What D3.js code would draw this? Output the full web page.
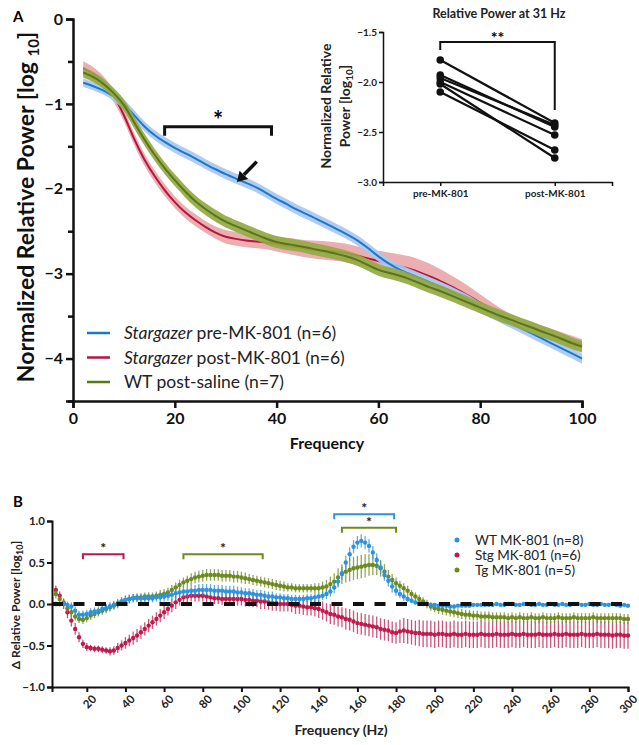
<!DOCTYPE html>
<html><head><meta charset="utf-8">
<script src="https://cdn.jsdelivr.net/npm/d3@7"></script>
<style>
body{margin:0;background:#fff}
svg{display:block}
text{font-family:Lato,"Open Sans",sans-serif}
</style>
</head><body><svg id="c" width="639" height="745"></svg>
<script>
// ---------- Panel A data ----------
const freqA = [2,4,6,8,10,12,14,16,18,20,22,24,26,28,30,32,34,36,38,40,42,44,46,48,50,
  52,54,56,58,60,62,64,66,68,70,72,74,76,78,80,82,84,86,88,90,92,94,96,98,100];
const preMean = [-0.75,-0.79,-0.84,-0.91,-1.0,-1.13,-1.27,-1.37,-1.45,-1.52,
  -1.58,-1.64,-1.71,-1.77,-1.83,-1.88,-1.93,-1.98,-2.05,-2.12,
  -2.18,-2.25,-2.3,-2.36,-2.42,-2.48,-2.54,-2.61,-2.7,-2.8,
  -2.88,-2.95,-3.0,-3.05,-3.1,-3.15,-3.2,-3.26,-3.32,-3.4,
  -3.46,-3.52,-3.58,-3.64,-3.7,-3.76,-3.82,-3.88,-3.94,-4.0];
const preSem = [0.05,0.05,0.05,0.05,0.06,0.06,0.06,0.06,0.06,0.06,
  0.06,0.06,0.06,0.06,0.06,0.06,0.06,0.06,0.06,0.06,
  0.06,0.06,0.06,0.06,0.06,0.06,0.06,0.06,0.06,0.06,
  0.06,0.06,0.06,0.06,0.06,0.06,0.06,0.06,0.06,0.06,
  0.06,0.06,0.06,0.06,0.06,0.06,0.06,0.06,0.06,0.06];
const postMean = [-0.58,-0.64,-0.74,-0.9,-1.12,-1.42,-1.66,-1.85,-2.02,-2.16,
  -2.28,-2.37,-2.45,-2.52,-2.57,-2.59,-2.61,-2.62,-2.63,-2.65,
  -2.67,-2.69,-2.71,-2.72,-2.73,-2.74,-2.76,-2.79,-2.82,-2.85,
  -2.88,-2.91,-2.94,-2.98,-3.03,-3.08,-3.14,-3.2,-3.27,-3.34,
  -3.42,-3.49,-3.55,-3.6,-3.64,-3.68,-3.72,-3.76,-3.8,-3.84];
const postSem = [0.08,0.08,0.07,0.07,0.07,0.07,0.07,0.07,0.07,0.07,
  0.07,0.07,0.07,0.07,0.08,0.08,0.08,0.08,0.08,0.09,
  0.09,0.1,0.1,0.11,0.11,0.11,0.11,0.11,0.11,0.12,
  0.13,0.14,0.15,0.15,0.15,0.14,0.13,0.12,0.11,0.1,
  0.09,0.08,0.07,0.07,0.07,0.07,0.07,0.07,0.07,0.07];
const salineMean = [-0.63,-0.68,-0.76,-0.87,-1.0,-1.22,-1.42,-1.6,-1.76,-1.9,
  -2.03,-2.15,-2.24,-2.32,-2.39,-2.44,-2.49,-2.54,-2.59,-2.63,
  -2.65,-2.67,-2.69,-2.72,-2.74,-2.77,-2.8,-2.84,-2.9,-2.96,
  -2.99,-3.02,-3.06,-3.11,-3.16,-3.2,-3.25,-3.3,-3.35,-3.4,
  -3.45,-3.5,-3.54,-3.59,-3.63,-3.68,-3.72,-3.77,-3.82,-3.86];
const salineSem = [0.06,0.06,0.06,0.06,0.07,0.07,0.07,0.07,0.07,0.07,
  0.07,0.07,0.07,0.07,0.07,0.07,0.07,0.07,0.07,0.07,
  0.07,0.07,0.07,0.07,0.07,0.07,0.07,0.07,0.07,0.07,
  0.07,0.07,0.07,0.07,0.07,0.07,0.07,0.07,0.07,0.07,
  0.07,0.07,0.07,0.07,0.07,0.07,0.07,0.07,0.07,0.07];
const seriesA = ["Stargazer pre-MK-801 (n=6)","Stargazer post-MK-801 (n=6)","WT post-saline (n=7)"];
const yTicksA = [0,-1,-2,-3,-4];
const xTicksA = [0,20,40,60,80,100];
const sigA = {f1:18, f2:39, v:-1.27, label:"*"};
const arrowA = {f1:36.1, v1:-1.68, f2:32.2, v2:-1.92};

// ---------- Inset data ----------
const insetCats = ["pre-MK-801","post-MK-801"];
const insetPre  = [-1.78,-1.93,-1.96,-2.0,-2.02,-2.1];
const insetPost = [-2.41,-2.45,-2.43,-2.53,-2.76,-2.68];
const insetTicks = [-1.5,-2.0,-2.5,-3.0];

// ---------- Panel B data ----------
const freqB = [4,6,8,10,12,14,16,18,20,22, 24,26,28,30,32,34,36,38,40,42,
  44,46,48,50,52,54,56,58,60,62, 64,66,68,70,72,74,76,78,80,82,
  84,86,88,90,92,94,96,98,100,102, 104,106,108,110,112,114,116,118,120,122,
  124,126,128,130,132,134,136,138,140,142, 144,146,148,150,152,154,156,158,160,162,
  164,166,168,170,172,174,176,178,180,182, 184,186,188,190,192,194,196,198,200,202,
  204,206,208,210,212,214,216,218,220,222, 224,226,228,230,232,234,236,238,240,242,
  244,246,248,250,252,254,256,258,260,262, 264,266,268,270,272,274,276,278,280,282,
  284,286,288,290,292,294,296,298,300];
const wtMean = [0.0,0.0,0.0,-0.01,-0.03,-0.08,-0.13,-0.13,-0.12,-0.1,
  -0.09,-0.08,-0.06,-0.05,-0.03,-0.01,0.01,0.03,0.05,0.06,
  0.07,0.07,0.07,0.07,0.07,0.07,0.08,0.08,0.09,0.1,
  0.11,0.13,0.14,0.15,0.15,0.16,0.16,0.17,0.17,0.17,
  0.17,0.16,0.16,0.16,0.15,0.15,0.15,0.14,0.14,0.13,
  0.13,0.12,0.11,0.11,0.1,0.09,0.09,0.08,0.08,0.07,
  0.07,0.06,0.06,0.06,0.06,0.07,0.07,0.08,0.09,0.1,
  0.12,0.15,0.2,0.27,0.37,0.5,0.6,0.69,0.74,0.76,
  0.74,0.7,0.62,0.53,0.44,0.35,0.28,0.21,0.16,0.12,
  0.09,0.06,0.04,0.02,0.01,0.0,0.0,-0.01,-0.01,-0.02,
  -0.02,-0.02,-0.03,-0.03,-0.02,-0.02,-0.02,-0.02,-0.01,-0.01,
  -0.01,-0.01,-0.01,-0.01,0.0,-0.01,-0.01,0.0,0.0,-0.01,
  -0.01,0.0,0.0,-0.01,-0.01,0.0,-0.01,-0.01,0.0,-0.01,
  -0.01,0.0,-0.01,-0.01,0.0,0.0,-0.01,-0.01,0.0,-0.01,
  -0.01,0.0,-0.01,-0.01,0.0,-0.01,-0.02,-0.01,-0.02];
const wtSem = [0.03,0.03,0.03,0.04,0.05,0.05,0.05,0.05,0.05,0.05,
  0.05,0.05,0.05,0.05,0.05,0.05,0.05,0.05,0.05,0.05,
  0.05,0.05,0.05,0.05,0.05,0.05,0.05,0.06,0.06,0.06,
  0.06,0.06,0.06,0.07,0.07,0.07,0.07,0.07,0.07,0.07,
  0.07,0.07,0.07,0.07,0.07,0.07,0.07,0.07,0.06,0.06,
  0.06,0.06,0.06,0.06,0.06,0.06,0.06,0.05,0.05,0.05,
  0.05,0.05,0.05,0.05,0.05,0.05,0.05,0.05,0.05,0.05,
  0.06,0.06,0.07,0.07,0.08,0.08,0.08,0.08,0.08,0.08,
  0.08,0.08,0.08,0.08,0.08,0.07,0.07,0.07,0.06,0.05,
  0.05,0.04,0.03,0.03,0.02,0.02,0.02,0.02,0.02,0.02,
  0.02,0.02,0.02,0.02,0.02,0.02,0.02,0.02,0.02,0.02,
  0.02,0.02,0.02,0.02,0.02,0.02,0.02,0.02,0.02,0.02,
  0.02,0.02,0.02,0.02,0.02,0.02,0.02,0.02,0.02,0.02,
  0.02,0.02,0.02,0.02,0.02,0.02,0.02,0.02,0.02,0.02,
  0.02,0.02,0.02,0.02,0.02,0.02,0.02,0.02,0.02];
const stgMean = [0.17,0.1,0.0,-0.1,-0.2,-0.3,-0.4,-0.48,-0.52,-0.53,
  -0.54,-0.54,-0.55,-0.56,-0.57,-0.56,-0.53,-0.5,-0.47,-0.44,
  -0.41,-0.38,-0.34,-0.3,-0.26,-0.22,-0.18,-0.14,-0.1,-0.06,
  -0.02,0.02,0.05,0.08,0.09,0.1,0.1,0.1,0.1,0.09,
  0.08,0.07,0.07,0.06,0.06,0.06,0.06,0.06,0.06,0.05,
  0.05,0.04,0.04,0.03,0.03,0.02,0.01,0.01,0.0,0.0,
  0.0,-0.01,-0.02,-0.02,-0.03,-0.04,-0.04,-0.05,-0.06,-0.08,
  -0.1,-0.12,-0.13,-0.15,-0.16,-0.18,-0.19,-0.21,-0.23,-0.24,
  -0.25,-0.26,-0.27,-0.28,-0.3,-0.31,-0.32,-0.34,-0.35,-0.33,
  -0.32,-0.33,-0.34,-0.35,-0.35,-0.36,-0.36,-0.36,-0.37,-0.36,
  -0.36,-0.37,-0.37,-0.36,-0.37,-0.37,-0.36,-0.37,-0.37,-0.37,
  -0.36,-0.37,-0.37,-0.37,-0.36,-0.37,-0.37,-0.37,-0.36,-0.37,
  -0.37,-0.36,-0.37,-0.37,-0.37,-0.36,-0.37,-0.37,-0.37,-0.36,
  -0.37,-0.37,-0.36,-0.37,-0.37,-0.37,-0.36,-0.37,-0.37,-0.37,
  -0.36,-0.37,-0.37,-0.37,-0.38,-0.37,-0.37,-0.38,-0.38];
const stgSem = [0.05,0.05,0.06,0.07,0.07,0.07,0.06,0.05,0.05,0.04,
  0.04,0.04,0.04,0.04,0.05,0.05,0.06,0.06,0.07,0.07,
  0.08,0.08,0.08,0.08,0.08,0.08,0.08,0.08,0.08,0.08,
  0.08,0.08,0.07,0.07,0.07,0.07,0.07,0.07,0.07,0.07,
  0.07,0.07,0.07,0.07,0.07,0.08,0.08,0.08,0.08,0.08,
  0.08,0.08,0.08,0.09,0.09,0.09,0.09,0.09,0.09,0.09,
  0.09,0.09,0.1,0.1,0.1,0.1,0.1,0.1,0.11,0.11,
  0.11,0.12,0.12,0.12,0.12,0.13,0.13,0.13,0.13,0.13,
  0.13,0.13,0.13,0.13,0.13,0.13,0.13,0.13,0.13,0.14,
  0.15,0.15,0.15,0.15,0.16,0.16,0.16,0.16,0.16,0.16,
  0.16,0.16,0.16,0.16,0.16,0.16,0.16,0.16,0.16,0.16,
  0.16,0.16,0.16,0.16,0.16,0.16,0.16,0.16,0.16,0.16,
  0.16,0.16,0.16,0.16,0.16,0.16,0.16,0.16,0.16,0.16,
  0.16,0.16,0.16,0.16,0.16,0.16,0.16,0.16,0.16,0.16,
  0.16,0.16,0.16,0.16,0.16,0.16,0.16,0.16,0.16];
const tgMean = [0.12,0.06,0.02,-0.05,-0.1,-0.15,-0.18,-0.19,-0.17,-0.14,
  -0.12,-0.1,-0.08,-0.06,-0.04,-0.02,0.0,0.03,0.05,0.06,
  0.07,0.08,0.08,0.09,0.09,0.09,0.1,0.11,0.12,0.14,
  0.17,0.2,0.23,0.26,0.28,0.3,0.32,0.33,0.34,0.35,
  0.35,0.35,0.35,0.34,0.34,0.34,0.33,0.33,0.32,0.31,
  0.3,0.29,0.28,0.27,0.26,0.25,0.24,0.23,0.22,0.21,
  0.2,0.2,0.19,0.19,0.19,0.19,0.19,0.19,0.19,0.2,
  0.21,0.24,0.27,0.32,0.36,0.39,0.41,0.43,0.44,0.45,
  0.46,0.47,0.47,0.46,0.43,0.39,0.33,0.29,0.25,0.22,
  0.19,0.16,0.12,0.09,0.06,0.03,0.0,-0.03,-0.05,-0.06,
  -0.07,-0.08,-0.09,-0.1,-0.11,-0.12,-0.13,-0.13,-0.14,-0.14,
  -0.15,-0.15,-0.15,-0.16,-0.16,-0.16,-0.16,-0.17,-0.16,-0.17,
  -0.16,-0.17,-0.17,-0.16,-0.17,-0.17,-0.16,-0.17,-0.17,-0.17,
  -0.16,-0.17,-0.17,-0.17,-0.16,-0.17,-0.17,-0.17,-0.17,-0.16,
  -0.17,-0.17,-0.17,-0.17,-0.17,-0.17,-0.17,-0.18,-0.18];
const tgSem = [0.05,0.05,0.05,0.05,0.05,0.05,0.05,0.05,0.05,0.05,
  0.05,0.05,0.05,0.05,0.05,0.05,0.05,0.05,0.05,0.05,
  0.05,0.05,0.05,0.05,0.05,0.05,0.05,0.06,0.06,0.06,
  0.06,0.06,0.06,0.06,0.06,0.07,0.07,0.07,0.07,0.07,
  0.07,0.07,0.07,0.07,0.07,0.07,0.07,0.07,0.07,0.07,
  0.06,0.06,0.06,0.06,0.06,0.06,0.06,0.06,0.06,0.06,
  0.05,0.05,0.05,0.05,0.05,0.05,0.05,0.06,0.06,0.07,
  0.08,0.09,0.1,0.11,0.12,0.13,0.14,0.14,0.14,0.14,
  0.14,0.13,0.12,0.11,0.1,0.09,0.08,0.07,0.07,0.06,
  0.06,0.06,0.05,0.05,0.05,0.05,0.05,0.05,0.05,0.06,
  0.06,0.06,0.06,0.06,0.06,0.06,0.06,0.06,0.06,0.06,
  0.06,0.06,0.06,0.06,0.06,0.06,0.06,0.06,0.06,0.06,
  0.06,0.06,0.06,0.06,0.06,0.06,0.06,0.06,0.06,0.06,
  0.06,0.06,0.06,0.06,0.06,0.06,0.06,0.06,0.06,0.06,
  0.06,0.06,0.06,0.06,0.06,0.06,0.06,0.06,0.06];
const seriesB = ["WT MK-801 (n=8)","Stg MK-801 (n=6)","Tg MK-801 (n=5)"];
const xTicksB = [20,40,60,80,100,120,140,160,180,200,220,240,260,280,300];
const yTicksB = [1.0,0.5,0.0,-0.5,-1.0];
const sigB = [
  {f1:18, f2:39, v:0.6, color:"red"},
  {f1:70, f2:111, v:0.6, color:"green"},
  {f1:148, f2:179, v:1.08, color:"blue"},
  {f1:152, f2:180, v:0.92, color:"green"}
];

// ---------- styles ----------
const C = {
  blueLine:"#1a78cf", blueBand:"#a9c9f0",
  redLine:"#b3163f", redBand:"#e9a7aa",
  greenLine:"#5b7614", greenBand:"#92a944",
  blueDot:"#2c93dd", redDot:"#c01a4c", greenDot:"#6d8a1d"
};
const svg = d3.select("#c");
const bold = "700";

// ================= Panel A =================
const xA = d3.scaleLinear().domain([0,100]).range([73,582]);
const yA = d3.scaleLinear().domain([0,-4.5]).range([19,401]);
const gA = svg.append("g");

const rowsA = (m,s)=>freqA.map((f,i)=>({f, m:m[i], s:s[i]}));
const bandA = d3.area().x(d=>xA(d.f)).y0(d=>yA(d.m-d.s)).y1(d=>yA(d.m+d.s)).curve(d3.curveBasis);
const lineA = d3.line().x(d=>xA(d.f)).y(d=>yA(d.m)).curve(d3.curveBasis);
const groupsA = [
  {rows:rowsA(postMean,postSem), band:C.redBand, line:C.redLine},
  {rows:rowsA(preMean,preSem), band:C.blueBand, line:C.blueLine},
  {rows:rowsA(salineMean,salineSem), band:C.greenBand, line:C.greenLine}
];
groupsA.forEach(g=>{
  gA.append("path").attr("d",bandA(g.rows)).attr("fill",g.band).attr("opacity",0.92);
  gA.append("path").attr("d",lineA(g.rows)).attr("fill","none").attr("stroke",g.line).attr("stroke-width",2);
});

// axes A
gA.append("g").attr("transform",`translate(${xA(0)},0)`)
  .call(d3.axisLeft(yA).tickValues(yTicksA).tickFormat(d3.format("d")).tickSize(7).tickPadding(3));
gA.append("g").attr("transform",`translate(${xA(0)},0)`)
  .call(d3.axisLeft(yA).tickValues([-0.5,-1.5,-2.5,-3.5,-4.5]).tickFormat("").tickSize(5))
  .select(".domain").remove();
gA.append("g").attr("transform",`translate(0,${yA(-4.5)})`)
  .call(d3.axisBottom(xA).tickValues(xTicksA).tickSize(7).tickPadding(5));
gA.selectAll(".domain").attr("stroke","#111").attr("stroke-width",2.5);
gA.selectAll(".tick line").attr("stroke","#111").attr("stroke-width",2.5);
gA.selectAll(".tick text").attr("font-size",16).attr("font-weight",bold).attr("fill","#111");

gA.append("text").attr("transform",`translate(34,207) rotate(-90)`).attr("text-anchor","middle")
  .attr("font-size",23).attr("font-weight",bold).attr("fill","#111")
  .text("Normalized Relative Power [log ")
  .append("tspan").attr("font-size",15).attr("dy",5).text("10")
  .select(function(){return this.parentNode;})
  .append("tspan").attr("dy",-5).text("]");
gA.append("text").attr("x",327).attr("y",449).attr("text-anchor","middle")
  .attr("font-size",16).attr("font-weight",bold).attr("fill","#111").text("Frequency");
svg.append("text").attr("x",13).attr("y",22).attr("font-size",15).attr("font-weight",bold).text("A");

// significance bracket A
gA.append("path").attr("fill","none").attr("stroke","#111").attr("stroke-width",3)
  .attr("d",`M${xA(sigA.f1)},${yA(sigA.v)+9}V${yA(sigA.v)}H${xA(sigA.f2)}V${yA(sigA.v)+9}`);
gA.append("text").attr("x",(xA(sigA.f1)+xA(sigA.f2))/2).attr("y",yA(sigA.v)+2).attr("text-anchor","middle")
  .attr("font-size",24).attr("font-weight",bold).text(sigA.label);
// arrow
{
  const x1=xA(arrowA.f1), y1=yA(arrowA.v1), x2=xA(arrowA.f2), y2=yA(arrowA.v2);
  const ang=Math.atan2(y2-y1,x2-x1), L=10, W=6;
  const bx=x2-L*Math.cos(ang), by=y2-L*Math.sin(ang);
  gA.append("line").attr("x1",x1).attr("y1",y1).attr("x2",bx).attr("y2",by).attr("stroke","#111").attr("stroke-width",3.5);
  gA.append("path").attr("fill","#111")
    .attr("d",`M${x2},${y2}L${bx+W*Math.sin(ang)},${by-W*Math.cos(ang)}L${bx-W*Math.sin(ang)},${by+W*Math.cos(ang)}Z`);
}
// legend A
const legColsA = [C.blueLine,C.redLine,C.greenLine];
seriesA.forEach((s,i)=>{
  const y = 333 + i*24.5;
  gA.append("line").attr("x1",87).attr("x2",110).attr("y1",y).attr("y2",y).attr("stroke",legColsA[i]).attr("stroke-width",2.5);
  const t = gA.append("text").attr("x",124).attr("y",y+6).attr("font-size",17.5).attr("fill","#222");
  if (s.startsWith("Stargazer")) {
    t.append("tspan").attr("font-style","italic").text("Stargazer");
    t.append("tspan").text(s.slice(9));
  } else t.text(s);
});

// ================= Inset =================
const xI = d3.scalePoint().domain(insetCats).range([383,612]).padding(0.5);
const yI = d3.scaleLinear().domain([-3,-1.5]).range([182,32]);
const gI = svg.append("g");
gI.append("g").attr("transform","translate(383,0)")
  .call(d3.axisLeft(yI).tickValues(insetTicks).tickFormat(d3.format(".1f")).tickSize(4).tickPadding(2));
gI.append("g").attr("transform","translate(0,182)")
  .call(d3.axisBottom(xI).tickSize(4).tickPadding(4));
gI.selectAll(".domain").attr("stroke","#111").attr("stroke-width",1.5);
gI.selectAll(".tick line").attr("stroke","#111").attr("stroke-width",1.5);
gI.selectAll(".tick text").attr("font-size",10).attr("font-weight",bold).attr("fill","#222");
insetPre.forEach((p,i)=>{
  gI.append("line").attr("x1",xI(insetCats[0])).attr("y1",yI(p)).attr("x2",xI(insetCats[1])).attr("y2",yI(insetPost[i]))
    .attr("stroke","#111").attr("stroke-width",2.2);
});
gI.selectAll("circle.pre").data(insetPre).join("circle").attr("class","pre").attr("cx",xI(insetCats[0])).attr("cy",d=>yI(d)).attr("r",3.8).attr("fill","#111");
gI.selectAll("circle.post").data(insetPost).join("circle").attr("class","post").attr("cx",xI(insetCats[1])).attr("cy",d=>yI(d)).attr("r",3.8).attr("fill","#111");
gI.append("path").attr("fill","none").attr("stroke","#111").attr("stroke-width",2)
  .attr("d",`M${xI(insetCats[0])},${yI(-1.68)}V${yI(-1.6)}H${xI(insetCats[1])}V${yI(-2.28)}`);
gI.append("text").attr("x",(xI(insetCats[0])+xI(insetCats[1]))/2).attr("y",yI(-1.6)+1).attr("text-anchor","middle")
  .attr("font-size",16).attr("font-weight",bold).text("**");
gI.append("text").attr("x",499).attr("y",18).attr("text-anchor","middle").attr("font-size",12.5).attr("font-weight",bold).attr("fill","#222")
  .text("Relative Power at 31 Hz");
gI.append("text").attr("transform","translate(331,106) rotate(-90)").attr("text-anchor","middle")
  .attr("font-size",14).attr("font-weight",bold).attr("fill","#222").text("Normalized Relative");
gI.append("text").attr("transform","translate(350,106) rotate(-90)").attr("text-anchor","middle")
  .attr("font-size",14).attr("font-weight",bold).attr("fill","#222").text("Power [log")
  .append("tspan").attr("font-size",10).attr("dy",3).text("10")
  .select(function(){return this.parentNode;}).append("tspan").attr("dy",-3).text("]");

// ================= Panel B =================
const xB = d3.scaleLinear().domain([2,300]).range([52,628]);
const yB = d3.scaleLinear().domain([-1,1]).range([687,521]);
const gB = svg.append("g");
gB.append("g").attr("transform",`translate(${xB(2)},0)`)
  .call(d3.axisLeft(yB).tickValues(yTicksB).tickFormat(d3.format(".1f")).tickSize(5).tickPadding(2));
const axXB = gB.append("g").attr("transform",`translate(0,${yB(-1)})`)
  .call(d3.axisBottom(xB).tickValues(xTicksB).tickSize(5).tickPadding(3));
gB.selectAll(".domain").attr("stroke","#111").attr("stroke-width",2);
gB.selectAll(".tick line").attr("stroke","#111").attr("stroke-width",2);
gB.selectAll(".tick text").attr("font-size",11.5).attr("font-weight",bold).attr("fill","#222");
axXB.selectAll(".tick text").attr("text-anchor","end").attr("transform","translate(2,5) rotate(-45)").attr("dy","0.7em").attr("y",3);

const seriesBData = [
  {m:stgMean, s:stgSem, c:C.redDot},
  {m:tgMean, s:tgSem, c:C.greenDot},
  {m:wtMean, s:wtSem, c:C.blueDot}
];
seriesBData.forEach(S=>{
  const rows = freqB.map((f,i)=>({f, m:S.m[i], s:S.s[i]}));
  const g = gB.append("g");
  g.selectAll("line").data(rows).join("line")
    .attr("x1",d=>xB(d.f)).attr("x2",d=>xB(d.f)).attr("y1",d=>yB(d.m-d.s)).attr("y2",d=>yB(d.m+d.s))
    .attr("stroke",S.c).attr("stroke-width",1.3).attr("opacity",0.75);
  g.selectAll("circle").data(rows).join("circle")
    .attr("cx",d=>xB(d.f)).attr("cy",d=>yB(d.m)).attr("r",2.2).attr("fill",S.c);
});
gB.append("line").attr("x1",xB(2)).attr("x2",xB(300)).attr("y1",yB(0)).attr("y2",yB(0))
  .attr("stroke","#111").attr("stroke-width",4).attr("stroke-dasharray","11,10.5");

const sigCol = {red:"#c0184a", green:"#6d8a1d", blue:"#2c93dd"};
sigB.forEach(b=>{
  const y = yB(b.v);
  gB.append("path").attr("fill","none").attr("stroke",sigCol[b.color]).attr("stroke-width",2)
    .attr("d",`M${xB(b.f1)},${y+5}V${y}H${xB(b.f2)}V${y+5}`);
  gB.append("text").attr("x",(xB(b.f1)+xB(b.f2))/2).attr("y",y-1).attr("text-anchor","middle")
    .attr("font-size",14).attr("font-weight",bold).attr("fill","#222").text("*");
});

gB.append("text").attr("transform","translate(20,605) rotate(-90)").attr("text-anchor","middle")
  .attr("font-size",12).attr("font-weight",bold).attr("fill","#222").text("Δ Relative Power [log")
  .append("tspan").attr("font-size",9).attr("dy",3).text("10")
  .select(function(){return this.parentNode;}).append("tspan").attr("dy",-3).text("]");
gB.append("text").attr("x",341).attr("y",735).attr("text-anchor","middle")
  .attr("font-size",14).attr("font-weight",bold).attr("fill","#222").text("Frequency (Hz)");
svg.append("text").attr("x",13).attr("y",507).attr("font-size",15).attr("font-weight",bold).text("B");

const legColsB = [C.blueDot,C.redDot,C.greenDot];
seriesB.forEach((s,i)=>{
  const y = 540 + i*15;
  gB.append("circle").attr("cx",457).attr("cy",y).attr("r",2.5).attr("fill",legColsB[i]);
  gB.append("text").attr("x",475).attr("y",y+5).attr("font-size",13.5).attr("fill","#222").text(s);
});
</script></body></html>
